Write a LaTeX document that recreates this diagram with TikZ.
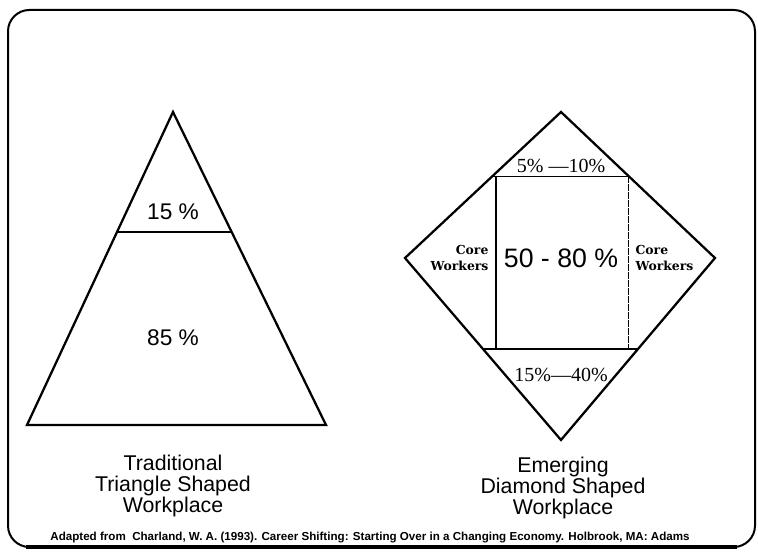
\documentclass[tikz,border=0pt]{standalone}
\usepackage{fontspec}
\setmainfont{Liberation Serif}
\setsansfont{Liberation Sans}
\newfontfamily\corefont{DejaVu Serif}
\usetikzlibrary{calc}
\tikzstyle{cardframe} = [line width=1.5pt, 
rounded corners=16pt]
\tikzstyle{outline} = [line width=1.7pt, 
line join=miter]
\tikzstyle{divider} = [line width=1pt]
\tikzstyle{share} = [font=\sffamily\fontsize{17}{19}\selectfont]
\tikzstyle{bigshare} = [font=\sffamily\fontsize{20}{22}\selectfont]
\tikzstyle{band} = [inner sep=1pt, 
font=\rmfamily\fontsize{15}{17}\selectfont]
\tikzstyle{core} = [inner sep=1pt, 
font=\corefont\bfseries\fontsize{9.3}{12}\selectfont]
\tikzstyle{caption} = [align=center, 
font=\sffamily\fontsize{16}{16}\selectfont]
\tikzstyle{source} = [inner sep=0pt, 
font=\sffamily\bfseries\fontsize{8.7}{9}\selectfont]

\begin{document}
\begin{tikzpicture}[x=0.75pt, y=-0.75pt]
    \useasboundingbox (0,0) rectangle (758,555);
    \draw [cardframe] (8,10) rectangle (755,547);
    \draw [line width=2.6pt] (26,547) -- (737,547);

    % triangle
    \coordinate (apex) at (173,112);
    \coordinate (tribl) at (27,425);
    \coordinate (tribr) at (326,425);
    \draw [outline] (apex) -- (tribr) -- (tribl) -- cycle;
    \coordinate (cutl) at ($(apex)!0.383!(tribl)$);
    \coordinate (cutr) at ($(apex)!0.383!(tribr)$);
    \draw [divider] (cutl) -- (cutr);
    \node (top) [share] at (173,212) {15 \%};
    \node (base) [share] at (173,338) {85 \%};
    \node (tricap) [caption] at (173,486) {Traditional\\Triangle Shaped\\Workplace};

    % diamond
    \coordinate (dtop) at (561,112);
    \coordinate (dright) at (715,258);
    \coordinate (dbottom) at (561,440);
    \coordinate (dleft) at (405,258);
    \draw [outline] (dtop) -- (dright) -- (dbottom) -- (dleft) -- cycle;
    \coordinate (uppl) at ($(dtop)!0.44!(dleft)$);
    \coordinate (uppr) at ($(dtop)!0.44!(dright)$);
    \coordinate (lowl) at ($(dbottom)!0.5!(dleft)$);
    \coordinate (lowr) at ($(dbottom)!0.5!(dright)$);
    \draw [divider] (uppl) -- (uppr);
    \draw [divider] (lowl) -- (lowr);
    \coordinate (sqtl) at (496,176);
    \coordinate (sqtr) at (628,176);
    \coordinate (sqbl) at (496,349);
    \coordinate (sqbr) at (628,349);
    \draw [line width=0.8pt] (sqtl) -- (sqbl);
    \draw [line width=0.5pt, dash pattern=on 5pt off 1pt] (sqtr) -- (sqbr);
    \node (upper) [band] at (561,166) {5\% ---10\%};
    \node (lower) [band] at (561,375) {15\%---40\%};
    \node (core) [bigshare] at (561,258) {50 - 80 \%};
    \node (coreleft) [core, anchor=east, align=right] at (490,258) {Core\\Workers};
    \node (coreright) [core, anchor=west, align=left] at (634,258) {Core\\Workers};
    \node (diacap) [caption] at (563,488) {Emerging\\Diamond Shaped\\Workplace};

    \node (credit) [source] at (370,538) {Adapted from \ Charland, W. A. (1993). Career Shifting: Starting Over in a Changing Economy. Holbrook, MA: Adams};
\end{tikzpicture}
\end{document}
